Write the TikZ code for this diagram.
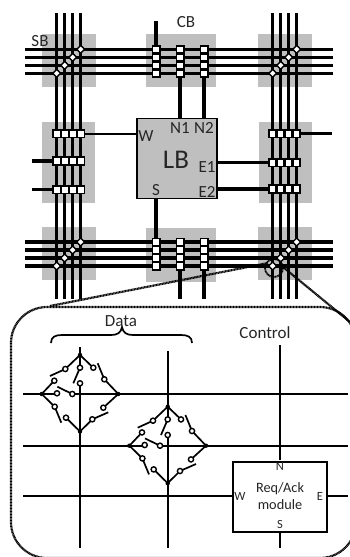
\documentclass[tikz,border=0pt]{standalone}
\usepackage{fontspec}
\setmainfont{Carlito}
\usetikzlibrary{shapes.geometric}
\definecolor{blockgray}{HTML}{BFBFBF}
\definecolor{inktext}{HTML}{262626}
\tikzset{
  block/.style={fill=blockgray,draw=none},
  wire/.style={line width=3.1pt,black},
  thin wire/.style={line width=2.1pt,black},
  lever/.style={line width=1.7pt,black},
  zoomline/.style={line width=2.2pt,black,dash pattern=on 1pt off 0.5pt},
  label15/.style={font=\fontsize{17}{17}\selectfont,text=inktext,inner sep=0pt},
  label12/.style={font=\fontsize{14.3}{14}\selectfont,text=inktext,inner sep=0pt},
  label10/.style={font=\fontsize{12.5}{12}\selectfont,text=inktext,inner sep=0pt},
  sbdot/.style={diamond,draw=black,fill=white,line width=1.4pt,minimum size=8.5pt,inner sep=0pt},
  swc/.style={circle,draw=black,fill=white,line width=1.4pt,minimum size=5.2pt,inner sep=0pt},
  joint/.style={circle,fill=black,minimum size=4.4pt,inner sep=0pt},
}
% four-track switch block
\newcommand{\sbswitch}[2]{%
  \foreach \k in {0,1,2,3}{\node[sbdot] at ({#1+8*\k},{#2-8*\k}) {};}}
% horizontal connection box, x = left, y = centre
\newcommand{\cbh}[2]{%
  \fill[black] (#1,{#2-4.6}) rectangle ({#1+33},{#2+4.6});
  \foreach \k in {0,1,2,3}{\fill[white] ({#1+1.7+8*\k},{#2-3}) rectangle ({#1+7.4+8*\k},{#2+3});}}
% vertical connection box, x = centre, y = top
\newcommand{\cbv}[2]{%
  \fill[black] ({#1-4.5},#2) rectangle ({#1+4.5},{#2+33});
  \foreach \k in {0,1,2,3}{\fill[white] ({#1-3},{#2+1.7+8*\k}) rectangle ({#1+3},{#2+7.4+8*\k});}}
% data switch diamond with centre (cx,cy)
\newcommand{\dataswitch}[2]{%
  \begin{scope}[shift={(#1,#2)}]
    \coordinate (T) at (0,-39);
    \coordinate (B) at (0,37.5);
    \coordinate (L) at (-38.3,0);
    \coordinate (R) at (38.3,0);
    \draw[lever] (L) -- (-25.7,-13.3);
    \draw[lever] (L) -- (-25.3,12.7);
    \draw[lever] (-25.3,12.7) -- (-18.7,28.7);
    \draw[lever] (-22.7,-7.3) -- (-7.7,0);
    \draw[lever] (T) -- (-14.7,-25);
    \draw[lever] (-14.7,-25) -- (-30,-18);
    \draw[lever] (T) -- (13.3,-26.3);
    \draw[lever] (17.7,-30.7) -- (24.3,-14.7);
    \draw[lever] (24.3,-14.7) -- (R);
    \draw[lever] (0,-26.3) -- (-6.7,-10.7);
    \draw[lever] (B) -- (-14,23.7);
    \draw[lever] (B) -- (12.3,25.3);
    \draw[lever] (12.3,25.3) -- (28.3,18.3);
    \draw[lever] (R) -- (23.3,13.7);
    \node[joint] at (T) {};
    \node[joint] at (B) {};
    \node[joint] at (L) {};
    \node[joint] at (R) {};
    \foreach \p in {(-25.7,-13.3),(-25.3,12.7),(-23,-0.7),(-7.7,0),(-14.7,-25),(13.3,-26.3),(24.3,-14.7),(0,-26.3),(0,-10.7),(-14,23.7),(12.3,25.3),(23.3,13.7)}
      {\node[swc] at \p {};}
  \end{scope}}
\begin{document}
\begin{tikzpicture}[x=1pt,y=-1pt]
\useasboundingbox (0,0) rectangle (350,557);
\clip (0,0) rectangle (350,557);
% gray blocks
\foreach \a/\b/\c/\d in {42/34/96/87,146/34/216/87,258/34/312/87,42/122/95/203,259/122/312/203,42/227/96/280,146/228/216/282,258/227/312/280}
  \fill[block] (\a,\b) rectangle (\c,\d);
% tracks
\foreach \x in {56.7,64.7,72.7,80.7,272.7,280.7,288.7,296.7}
  \draw[wire] (\x,13) -- (\x,298.7);
\foreach \y in {49.3,57.3,65.3,73.3,242,250,258,266}
  \draw[wire] (25,\y) -- (333,\y);
% logic block
\node[draw=black,line width=1.6pt,fill=blockgray,minimum width=80pt,minimum height=80pt,inner sep=0pt,anchor=north west] (LB) at (136,117.5) {};
\node[font=\fontsize{27}{27}\selectfont,text=inktext,inner sep=0pt] (LBt) at (176,160) {LB};
% stubs
\draw[wire] (156,21) -- (156,45);
\draw[wire] (180,78) -- (180,117.5);
\draw[wire] (204,78) -- (204,117.5);
\draw[wire] (156,198) -- (156,238);
\draw[wire] (180,270) -- (180,298.7);
\draw[wire] (204,270) -- (204,298.7);
\draw[thin wire] (85,133.7) -- (136,133.7);
\draw[wire] (32,161) -- (53,161);
\draw[wire] (32,189.7) -- (53,189.7);
\draw[wire] (301,133.7) -- (331.7,133.7);
\draw[wire] (216,162.5) -- (268,162.5);
\draw[wire] (216,189) -- (268,189);
% connection boxes
\cbv{156}{45}\cbv{180}{45}\cbv{204}{45}
\cbv{156}{237.7}\cbv{180}{237.7}\cbv{204}{237.7}
\cbh{52.3}{133.7}\cbh{52.3}{161}\cbh{52.3}{189.7}
\cbh{268}{133.7}\cbh{268}{162.5}\cbh{268}{189}
% switch blocks
\sbswitch{56.7}{73.3}\sbswitch{272.7}{73.3}\sbswitch{56.7}{266}\sbswitch{272.7}{266}
% top labels
\node[label15] (sb) at (40,41) {SB};
\node[label15] (cb) at (186,22) {CB};
\node[label15] (w) at (146,136) {W};
\node[label15] (n1) at (180,128) {N1};
\node[label15] (n2) at (204,128) {N2};
\node[label15] (s) at (156,190) {S};
\node[label15] (e1) at (207,167) {E1};
\node[label15] (e2) at (207,192) {E2};
% zoom outline
\draw[zoomline,rounded corners=36pt] (11,307) rectangle (356,558);
\coordinate (zc) at (274,268);
\draw[zoomline,line width=1.8pt] (zc) circle (9);
\draw[zoomline] (50,306) -- (268,263);
\draw[zoomline] (283,267) -- (350,322);
% inset grid
\foreach \y in {394,445.7}
  \draw[thin wire] (23,\y) -- (348,\y);
\draw[thin wire] (23,495.7) -- (232,495.7);
\draw[thin wire] (328,495.7) -- (348,495.7);
\draw[thin wire] (80,347) -- (80,367.7);
\draw[thin wire] (80,383.3) -- (80,548);
\draw[thin wire] (167.7,351) -- (167.7,419.4);
\draw[thin wire] (167.7,435) -- (167.7,548);
\draw[thin wire] (280,345) -- (280,460);
\draw[thin wire] (280,532) -- (280,548);
% white gaps in the horizontal lines
\fill[white] (58,392) rectangle (71.3,396);
\fill[white] (145.7,443.7) rectangle (159,447.7);
\dataswitch{80}{394}
\dataswitch{167.7}{445.7}
% brace
\draw[line width=1.7pt,black] (51,343) .. controls (51,337) and (55,335) .. (62,335) -- (111,335)
  .. controls (117,335) and (121,333) .. (122,327) .. controls (123,333) and (127,335) .. (133,335)
  -- (181,335) .. controls (188,335) and (192,337) .. (192,343);
\node[label15] (data) at (121,321) {Data};
\node[label15] (ctrl) at (265,333) {Control};
% req/ack module
\node[draw=black,line width=2.2pt,fill=white,minimum width=94pt,minimum height=70pt,inner sep=0pt,anchor=north west] (mod) at (232,460.5) {};
\node[label12,align=center,font=\fontsize{14.3}{17}\selectfont] (modt) at (280,496.5) {Req/Ack\\module};
\node[label10] (mn) at (280,466.5) {N};
\node[label10] (mw) at (240,496) {W};
\node[label10] (me) at (320,496) {E};
\node[label10] (ms) at (280,524.5) {S};
\end{tikzpicture}
\end{document}
